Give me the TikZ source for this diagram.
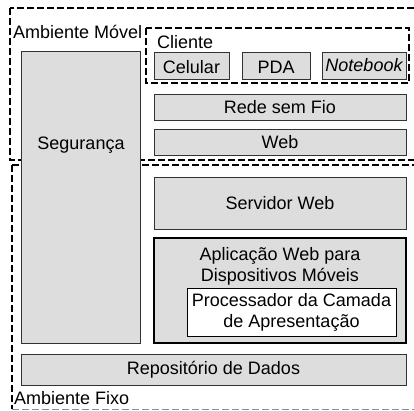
\documentclass[tikz,border=0pt]{standalone}
\usepackage{fontspec}
\setmainfont{Liberation Sans}
\definecolor{boxgray}{RGB}{221,221,221}
\definecolor{linegray}{RGB}{50,50,50}
\begin{document}
\begin{tikzpicture}[x=1pt,y=-1pt,
  every node/.style={font=\fontsize{18}{21}\selectfont},
  layer/.style={draw=linegray,fill=boxgray,inner sep=0pt,line width=0.9pt,align=center},
  zone/.style={draw=black,dash pattern=on 7pt off 3pt,line width=1.6pt},
  label/.style={inner sep=0pt,anchor=west}]
 \useasboundingbox (0,0) rectangle (414,410);
 % ambientes
 \draw[zone] (10,8) rectangle (430,160);
 \draw[zone] (12,165) -- (12,409);
 \draw[zone] (12,165) -- (430,165);
 \draw[zone,line width=1pt,draw=black!45] (12,409) -- (430,409);
 \draw[zone,line width=2.2pt] (146,28) rectangle (409,83);
 \node[label] (movel) at (13,32) {Ambiente Móvel};
 \node[label] (fixo) at (14,398) {Ambiente Fixo};
 \node[label] (cliente) at (157,42) {Cliente};
 % cliente
 \node[layer,minimum width=75pt,minimum height=27pt,text height=16pt,text depth=0pt] (celular) at (191.5,65.5) {Celular};
 \node[layer,minimum width=68pt,minimum height=27pt,text height=16pt,text depth=0pt] (pda) at (276,65.5) {PDA};
 \node[layer,minimum width=84pt,minimum height=27pt] (notebook) at (364,65.5) {\itshape Notebook};
 % camadas
 \node[layer,minimum width=252pt,minimum height=26pt] (rede) at (280,107) {Rede sem Fio};
 \node[layer,minimum width=252pt,minimum height=26pt] (web) at (280,142) {Web};
 \node[layer,minimum width=119pt,minimum height=292pt] (seguranca) at (80.5,197) {};
 \node (segtxt) at (81,145) {Segurança};
 \node[layer,minimum width=252pt,minimum height=52pt] (servidor) at (280,203) {Servidor Web};
 \node[layer,draw=black,line width=2.8pt,minimum width=252pt,minimum height=105pt] (aplicacao) at (280,290.5) {};
 \node[align=center] (apltxt) at (280,266) {Aplicação Web para\\Dispositivos Móveis};
 \node[layer,draw=black,line width=0.8pt,fill=white,minimum width=209pt,minimum height=48pt] (processador) at (291.5,312) {Processador da Camada\\de Apresentação};
 \node[layer,minimum width=385pt,minimum height=31pt] (repositorio) at (213.5,369.5) {Repositório de Dados};
\end{tikzpicture}
\end{document}
